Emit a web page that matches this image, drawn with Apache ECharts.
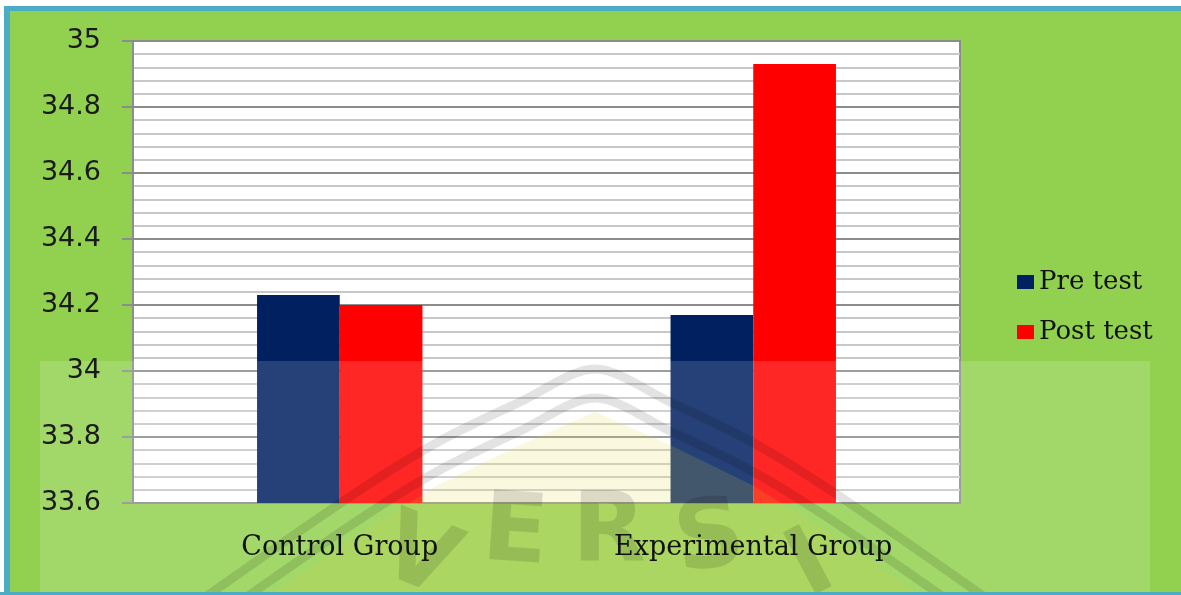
<!DOCTYPE html>
<html>
<head>
<meta charset="utf-8">
<title>Pre test / Post test</title>
<script src="https://cdn.jsdelivr.net/npm/echarts@6/dist/echarts.min.js"></script>
<style>
  html, body { margin: 0; padding: 0; background: #ffffff; }
  #chart { width: 1181px; height: 595px; }
</style>
</head>
<body>
<div id="chart"></div>
<script>
// Group names on the category axis
const categories = ['Control Group', 'Experimental Group'];
// Mean scores per group
const preTest = [34.23, 34.17];
const postTest = [34.2, 34.93];
// Value axis range
const yMin = 33.6;
const yMax = 35;
const yStep = 0.2;

const chart = echarts.init(document.getElementById('chart'));

const shade = 'rgba(0,0,0,0.11)';
const letterFill = 'rgba(0,0,0,0.12)';

// Faint logo watermark lying over the lower part of the chart
function roof(offset) {
  const pts = [[207, 592], [354, 490], [438, 438], [520, 398], [595, 365],
               [670, 398], [752, 438], [836, 490], [983, 592]];
  return pts.map(p => [p[0], p[1] + offset]);
}
const letters = [
  { t: 'V', x: 418, y: 560, r: 22 },
  { t: 'E', x: 515, y: 536, r: 4 },
  { t: 'R', x: 609, y: 536, r: 0 },
  { t: 'S', x: 710, y: 542, r: -8 },
  { t: 'I', x: 812, y: 568, r: -28 }
];

const graphics = [
  // frame
  { type: 'rect', z: 100, silent: true, shape: { x: 0, y: 0, width: 1181, height: 6 }, style: { fill: '#ffffff' } },
  { type: 'rect', z: 100, silent: true, shape: { x: 0, y: 0, width: 4, height: 595 }, style: { fill: '#ffffff' } },
  { type: 'rect', z: 100, silent: true, shape: { x: 4, y: 6, width: 1177, height: 5 }, style: { fill: '#4BACC6' } },
  { type: 'rect', z: 100, silent: true, shape: { x: 4, y: 6, width: 6, height: 589 }, style: { fill: '#4BACC6' } },
  { type: 'rect', z: 100, silent: true, shape: { x: 0, y: 592, width: 1181, height: 3 }, style: { fill: '#4BACC6' } },
  // watermark panel
  { type: 'rect', z: 5, silent: true, shape: { x: 40, y: 361, width: 1110, height: 231 }, style: { fill: 'rgba(255,255,255,0.15)' } },
  { type: 'polygon', z: 5, silent: true,
    shape: { points: roof(47).concat([[207, 592]]) },
    style: { fill: 'rgba(225,205,50,0.15)' } },
  { type: 'polyline', z: 5, silent: true, shape: { points: roof(4), smooth: 0.3 },
    style: { stroke: shade, lineWidth: 9, fill: null } },
  { type: 'polyline', z: 5, silent: true, shape: { points: roof(33), smooth: 0.3 },
    style: { stroke: shade, lineWidth: 9, fill: null } }
];
letters.forEach(l => {
  graphics.push({
    type: 'text', z: 5, silent: true, x: l.x, y: l.y, rotation: -l.r * Math.PI / 180,
    style: { text: l.t, fill: letterFill, font: 'bold 96px "DejaVu Sans"', align: 'center', verticalAlign: 'middle' }
  });
});

const labelFontX = { fontFamily: 'DejaVu Serif', fontSize: 27, color: '#111' };
const labelFontY = { fontFamily: 'DejaVu Sans', fontSize: 27, color: '#1a1a1a' };
const fmtY = v => String(Math.round(v * 10) / 10);

chart.setOption({
  backgroundColor: '#92D050',
  animation: false,
  graphic: graphics,
  legend: {
    orient: 'vertical',
    left: 1012,
    top: 262,
    itemWidth: 17,
    itemHeight: 14,
    itemGap: 20,
    icon: 'rect',
    textStyle: { fontFamily: 'DejaVu Serif', fontSize: 26, color: '#111', lineHeight: 30 },
    data: ['Pre test', 'Post test']
  },
  grid: {
    left: 133, right: 221, top: 41, bottom: 92,
    show: true, backgroundColor: '#ffffff', borderColor: '#8c8c8c', borderWidth: 2,
    containLabel: false
  },
  xAxis: [
    {
      // axis line and bars' scale, drawn beneath the bars
      type: 'category',
      data: categories,
      axisLine: { lineStyle: { color: '#8c8c8c', width: 2 } },
      axisTick: { show: false },
      axisLabel: { show: false }
    },
    {
      // category names, kept on top of everything
      type: 'category',
      data: categories,
      position: 'bottom',
      z: 10,
      axisLine: { show: false },
      axisTick: { show: false },
      splitLine: { show: false },
      axisLabel: Object.assign({ margin: 31 }, labelFontX)
    }
  ],
  yAxis: [
    {
      type: 'value',
      min: yMin, max: yMax, interval: yStep,
      axisLine: { show: true, lineStyle: { color: '#8c8c8c', width: 2 } },
      axisTick: { show: true, length: 11, lineStyle: { color: '#8c8c8c', width: 2 } },
      axisLabel: { show: false },
      splitLine: { lineStyle: { color: '#8c8c8c', width: 2 } },
      minorTick: { show: false, splitNumber: 5 },
      minorSplitLine: { show: true, lineStyle: { color: '#c8c8c8', width: 2 } }
    },
    {
      type: 'value',
      position: 'left',
      min: yMin, max: yMax, interval: yStep,
      z: 10,
      axisLine: { show: false },
      axisTick: { show: false },
      splitLine: { show: false },
      axisLabel: Object.assign({ margin: 32, formatter: fmtY }, labelFontY)
    }
  ],
  series: [
    { name: 'Pre test', type: 'bar', data: preTest, barWidth: '20%', barGap: '0%',
      xAxisIndex: 0, yAxisIndex: 0, itemStyle: { color: '#002060' } },
    { name: 'Post test', type: 'bar', data: postTest, barWidth: '20%', barGap: '0%',
      xAxisIndex: 0, yAxisIndex: 0, itemStyle: { color: '#FF0000' } }
  ]
});
</script>
</body>
</html>
